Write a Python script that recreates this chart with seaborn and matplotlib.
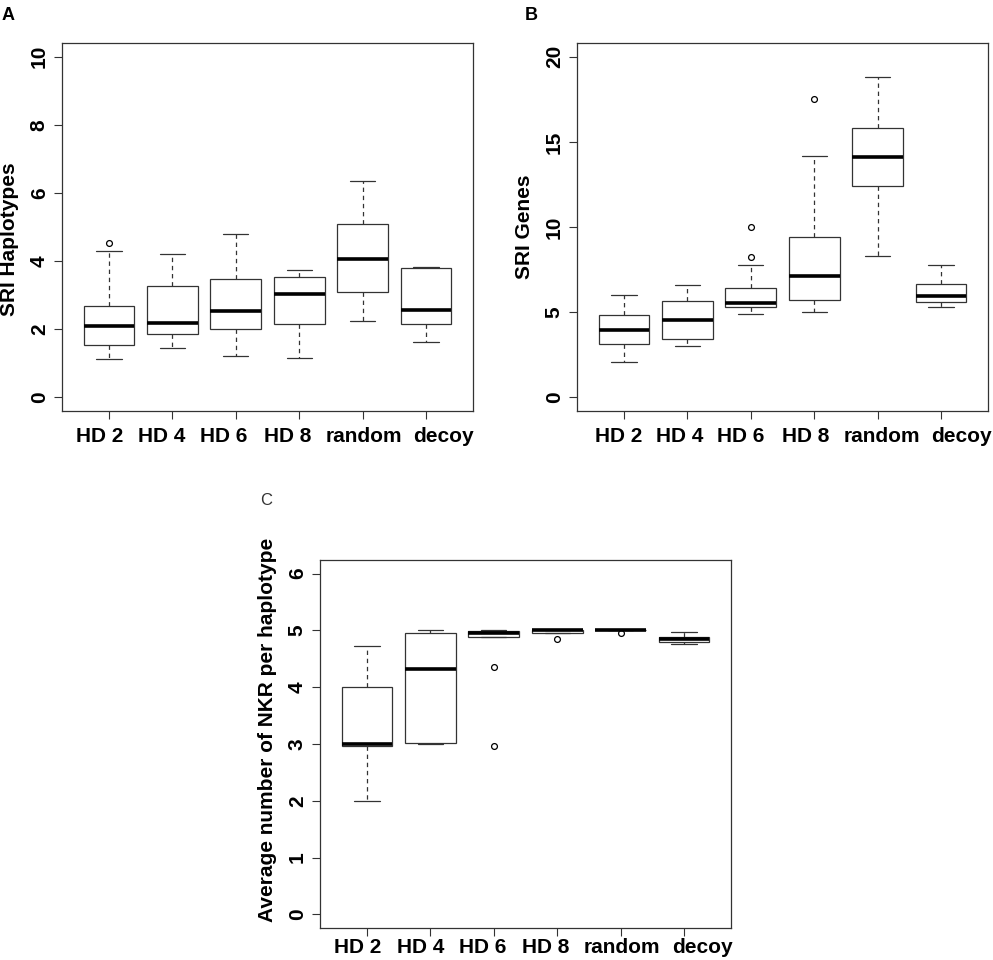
import matplotlib
matplotlib.use("Agg")
import matplotlib.pyplot as plt
import matplotlib.transforms as mtransforms
import seaborn as sns
import pandas as pd

# ---------------- data ----------------
categories = ["HD 2", "HD 4", "HD 6", "HD 8", "random", "decoy"]

# Panel A: SRI Haplotypes
hap_hd2 = [1.13, 1.40, 1.54, 1.80, 2.09, 2.40, 2.67, 4.29, 4.52]
hap_hd4 = [1.45, 1.70, 1.85, 2.00, 2.18, 2.80, 3.26, 3.80, 4.22]
hap_hd6 = [1.20, 1.70, 2.01, 2.30, 2.54, 3.00, 3.46, 4.10, 4.78]
hap_hd8 = [1.16, 1.80, 2.16, 2.60, 3.02, 3.30, 3.53, 3.65, 3.73]
hap_random = [2.25, 2.70, 3.08, 3.60, 4.06, 4.50, 5.08, 5.70, 6.36]
hap_decoy = [1.63, 1.90, 2.16, 2.40, 2.56, 3.20, 3.80, 3.81, 3.82]

# Panel B: SRI Genes
gen_hd2 = [2.09, 2.70, 3.11, 3.50, 3.93, 4.40, 4.83, 5.40, 5.99]
gen_hd4 = [3.01, 3.20, 3.41, 4.00, 4.52, 5.10, 5.66, 6.10, 6.59]
gen_hd6 = [4.89, 5.00, 5.15, 5.28, 5.35, 5.45, 5.54, 5.80, 6.10, 6.40, 7.79, 8.22, 9.98]
gen_hd8 = [5.03, 5.40, 5.69, 6.40, 7.14, 8.20, 9.39, 14.17, 17.53]
gen_random = [8.28, 10.50, 12.39, 13.30, 14.09, 15.00, 15.81, 17.20, 18.83]
gen_decoy = [5.32, 5.45, 5.58, 5.80, 5.97, 6.30, 6.63, 7.20, 7.79]

# Panel C: Average number of NKR per haplotype
nkr_hd2 = [2.00, 2.97, 2.97, 3.00, 3.00, 3.50, 4.00, 4.40, 4.73]
nkr_hd4 = [3.00, 3.00, 3.01, 3.80, 4.32, 4.70, 4.96, 5.00, 5.00]
nkr_hd6 = [2.97, 4.36, 4.89, 4.89, 4.92, 4.95, 4.96, 4.97, 4.98, 4.99, 5.00, 5.00, 5.00]
nkr_hd8 = [4.85, 4.96, 4.96, 5.00, 5.00, 5.00, 5.00, 5.00, 5.00]
nkr_random = [4.96, 5.00, 5.00, 5.00, 5.00, 5.00, 5.00, 5.00, 5.00]
nkr_decoy = [4.76, 4.78, 4.79, 4.82, 4.85, 4.87, 4.89, 4.93, 4.97]

panel_a = [hap_hd2, hap_hd4, hap_hd6, hap_hd8, hap_random, hap_decoy]
panel_b = [gen_hd2, gen_hd4, gen_hd6, gen_hd8, gen_random, gen_decoy]
panel_c = [nkr_hd2, nkr_hd4, nkr_hd6, nkr_hd8, nkr_random, nkr_decoy]

ylabels = ["SRI Haplotypes", "SRI Genes", "Average number of NKR per haplotype"]
yticks_a = [0, 2, 4, 6, 8, 10]
yticks_b = [0, 5, 10, 15, 20]
yticks_c = [0, 1, 2, 3, 4, 5, 6]


def to_frame(groups):
    rows = []
    for cat, vals in zip(categories, groups):
        for v in vals:
            rows.append({"group": cat, "value": v})
    return pd.DataFrame(rows)


# ---------------- style ----------------
sns.set_style("ticks")
plt.rcParams["font.family"] = ["Liberation Sans", "DejaVu Sans"]
plt.rcParams["font.weight"] = "bold"
plt.rcParams["text.color"] = "black"
plt.rcParams["axes.labelcolor"] = "black"
plt.rcParams["xtick.labelcolor"] = "black"
plt.rcParams["ytick.labelcolor"] = "black"

W, H = 993, 960
fig = plt.figure(figsize=(W / 100, H / 100), dpi=100)

EDGE = "#333333"


def draw(groups, rect_px, yticks, ylabel, ylab_y, label_shift_px, xpad):
    l, t, r, b = rect_px
    ax = fig.add_axes([l / W, 1 - b / H, (r - l) / W, (b - t) / H])
    df = to_frame(groups)
    sns.boxplot(
        data=df, x="group", y="value", order=categories, ax=ax,
        color="white", linecolor=EDGE, linewidth=0.9, width=0.8,
        whiskerprops={"linestyle": (0, (3.5, 3.0)), "color": EDGE},
        capprops={"color": EDGE},
        medianprops={"color": "black", "linewidth": 2.6},
        flierprops={"marker": "o", "markerfacecolor": "none",
                    "markeredgecolor": "black", "markersize": 4.2,
                    "markeredgewidth": 0.9},
    )
    lo, hi = yticks[0], yticks[-1]
    pad = 0.04 * (hi - lo)
    ax.set_ylim(lo - pad, hi + pad)
    ax.set_xlim(-0.74, 5.74)
    ax.set_yticks(yticks)
    ax.set_yticklabels([str(v) for v in yticks], rotation=90, va="center",
                       fontsize=15, fontweight="bold", color="black")
    ax.set_xticks(range(len(categories)))
    ax.set_xticklabels(categories, fontsize=15, fontweight="bold", color="black")
    ax.tick_params(axis="both", length=5.5, width=0.8, color=EDGE)
    ax.tick_params(axis="x", pad=xpad)
    ax.tick_params(axis="y", pad=4)
    # the category labels are spread slightly sideways in the reference
    for lab, dx in zip(ax.get_xticklabels(), label_shift_px):
        off = mtransforms.ScaledTranslation(dx / 100, 0, fig.dpi_scale_trans)
        lab.set_transform(lab.get_transform() + off)
    for s in ax.spines.values():
        s.set_visible(True)
        s.set_color(EDGE)
        s.set_linewidth(0.9)
    ax.set_xlabel("")
    ax.set_ylabel(ylabel, fontsize=15, fontweight="bold", color="black")
    ax.yaxis.set_label_coords(-43 / (r - l), ylab_y)
    return ax


draw(panel_a, (62, 43, 473, 411), yticks_a, ylabels[0], 0.467,
     [-9, -11, -12, -12, 1, 17], 6)
draw(panel_b, (577, 43, 988, 411), yticks_b, ylabels[1], 0.5,
     [-5, -8, -10, -9, 4, 20], 6)
draw(panel_c, (320, 560, 731, 928), yticks_c, ylabels[2], 0.538,
     [-9, -10, -11, -12, 1, 18], 1.5)

fig.text(2 / W, 1 - 20 / H, "A", fontsize=13, fontweight="bold", ha="left", va="baseline")
fig.text(525 / W, 1 - 20 / H, "B", fontsize=13, fontweight="bold", ha="left", va="baseline")
fig.text(260 / W, 1 - 505 / H, "C", fontsize=12, fontweight="normal", color="#333333",
         ha="left", va="baseline")

fig.savefig("out.png", dpi=100, facecolor="white")
